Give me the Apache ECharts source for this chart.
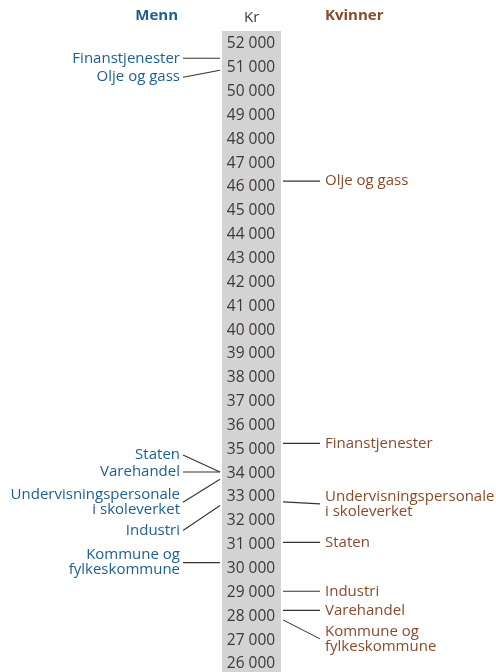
<!DOCTYPE html>
<html lang="no">
<head>
  <meta charset="UTF-8">
  <title>Lønn menn og kvinner</title>
  <script src="https://cdn.jsdelivr.net/npm/echarts@6/dist/echarts.min.js"></script>
  <style>
    html, body { margin: 0; padding: 0; background: #fff; }
  </style>
</head>
<body>
  <div id="main" style="width: 496px;height: 672px;"></div>
  <script type="text/javascript">
    // verdier i kr
    var menNames = ['Finanstjenester', 'Olje og gass', 'Staten', 'Varehandel',
      'Undervisningspersonale\ni skoleverket', 'Industri', 'Kommune og\nfylkeskommune'];
    var menValues = [51400, 50900, 34050, 34050, 33750, 32650, 30250];

    var womenNames = ['Olje og gass', 'Finanstjenester', 'Undervisningspersonale\ni skoleverket',
      'Staten', 'Industri', 'Varehandel', 'Kommune og\nfylkeskommune'];
    var womenValues = [46250, 35250, 32800, 31100, 29050, 28250, 27850];

    var axisMin = 26000, axisMax = 52000, axisStep = 1000;

    // vertical shift of each label from its value, px (layout only)
    var menShift = [0, 7, -17, 0, 23, 25, 0];
    var womenShift = [0, 0, 2, 0, 0, 0, 19];

    var blue = '#1d5f8f';
    var brown = '#8a4a2c';
    var lineColor = '#3b312c';
    var font = '"Open Sans", "Noto Sans", sans-serif';

    function makeData(names, values, shifts) {
      return values.map(function (v, i) {
        return { value: [0, v, shifts[i]], name: names[i] };
      });
    }

    function leader(side, color) {
      return function (params, api) {
        var cs = params.coordSys;
        var y = api.coord([0, api.value(1)])[1];
        var ly = y + api.value(2);
        var name = side === 'left' ? menNames[params.dataIndex] : womenNames[params.dataIndex];
        var x0, x1, tx, align;
        if (side === 'left') {
          x0 = cs.x - 2; x1 = cs.x - 39; tx = x1 - 3; align = 'right';
        } else {
          x0 = cs.x + cs.width + 2; x1 = cs.x + cs.width + 39; tx = x1 + 5; align = 'left';
        }
        return {
          type: 'group',
          children: [{
            type: 'line',
            shape: { x1: x0, y1: y, x2: x1, y2: ly },
            style: { stroke: lineColor, lineWidth: 1.1 }
          }, {
            type: 'text',
            x: tx,
            y: ly,
            style: {
              text: name,
              fill: color,
              font: '15px ' + font,
              align: align,
              verticalAlign: 'middle',
              lineHeight: 15
            }
          }]
        };
      };
    }

    var myChart = echarts.init(document.getElementById('main'));

    myChart.setOption({
      backgroundColor: '#fff',
      animation: false,
      title: [{
        text: 'Menn', right: 318, top: 8, padding: 0,
        textStyle: { color: blue, fontSize: 15, fontWeight: 'bold', fontFamily: font }
      }, {
        text: 'Kr', left: 244, top: 10, padding: 0,
        textStyle: { color: '#3d3935', fontSize: 15, fontWeight: 'normal', fontFamily: font }
      }, {
        text: 'Kvinner', left: 325, top: 8, padding: 0,
        textStyle: { color: brown, fontSize: 15, fontWeight: 'bold', fontFamily: font }
      }],
      grid: [{
        // grey column
        left: 222, width: 59, top: 31, bottom: 0,
        show: true, backgroundColor: '#d3d3d3', borderWidth: 0
      }, {
        left: 222, width: 59, top: 44, height: 621,
        show: false
      }],
      xAxis: [
        { gridIndex: 0, type: 'value', show: false },
        { gridIndex: 1, type: 'value', show: false, min: 0, max: 1 }
      ],
      yAxis: [
        { gridIndex: 0, type: 'value', show: false },
        {
          gridIndex: 1,
          type: 'value',
          min: axisMin,
          max: axisMax,
          interval: axisStep,
          axisLine: { show: false },
          axisTick: { show: false },
          splitLine: { show: false },
          axisLabel: {
            inside: true,
            align: 'center',
            margin: 29,
            padding: [4, 0, 0, 0],
            color: '#3d3935',
            fontSize: 15.5,
            fontFamily: font,
            formatter: function (v) {
              return String(v).replace(/\B(?=(\d{3})+(?!\d))/g, ' ');
            }
          }
        }
      ],
      series: [{
        type: 'custom',
        name: 'Menn',
        xAxisIndex: 1,
        yAxisIndex: 1,
        clip: false,
        renderItem: leader('left', blue),
        data: makeData(menNames, menValues, menShift)
      }, {
        type: 'custom',
        name: 'Kvinner',
        xAxisIndex: 1,
        yAxisIndex: 1,
        clip: false,
        renderItem: leader('right', brown),
        data: makeData(womenNames, womenValues, womenShift)
      }]
    });
  </script>
</body>
</html>
